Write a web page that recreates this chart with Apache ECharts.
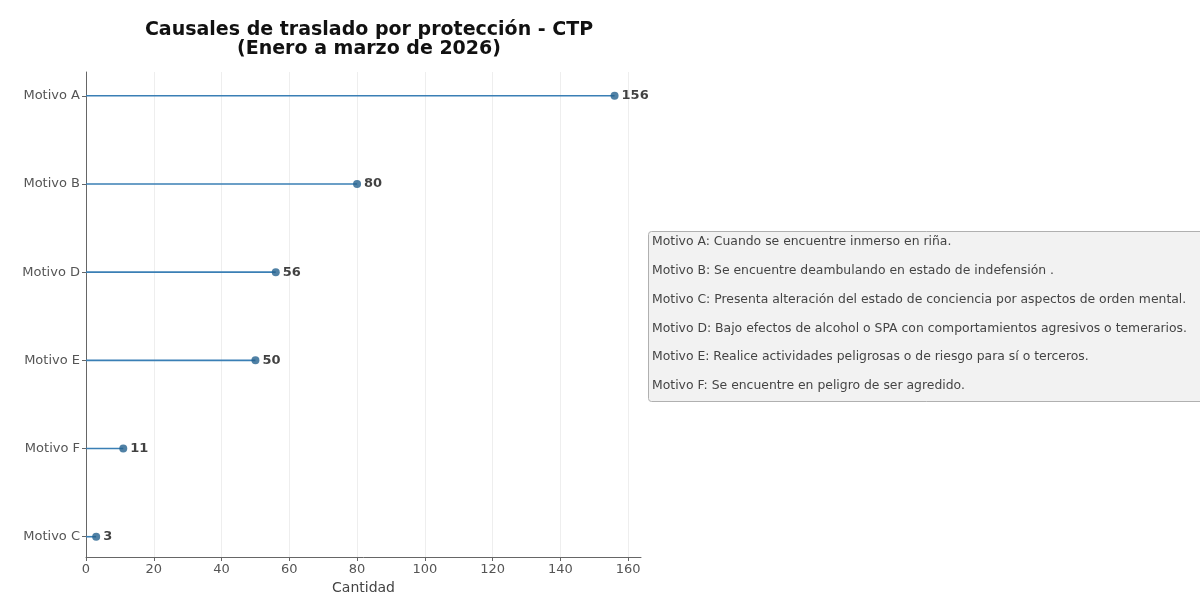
<!DOCTYPE html>
<html>
<head>
<meta charset="utf-8">
<script src="https://cdn.jsdelivr.net/npm/echarts@6/dist/echarts.min.js"></script>
<style>html,body{margin:0;padding:0;background:#fff}#c{width:1200px;height:601px}</style>
</head>
<body>
<div id="c"></div>
<script>
const categories = ['Motivo A', 'Motivo B', 'Motivo D', 'Motivo E', 'Motivo F', 'Motivo C'];
const values = [156, 80, 56, 50, 11, 3];
const xTicks = [0, 20, 40, 60, 80, 100, 120, 140, 160];
const legendLines = [
  'Motivo A: Cuando se encuentre inmerso en riña.',
  'Motivo B: Se encuentre deambulando en estado de indefensión .',
  'Motivo C: Presenta alteración del estado de conciencia por aspectos de orden mental.',
  'Motivo D: Bajo efectos de alcohol o SPA con comportamientos agresivos o temerarios.',
  'Motivo E: Realice actividades peligrosas o de riesgo para sí o terceros.',
  'Motivo F: Se encuentre en peligro de ser agredido.'
];

const chart = echarts.init(document.getElementById('c'), null, {renderer: 'canvas'});
const idx = categories.map((_, i) => i);
const pts = values.map((v, i) => [v, i]);

const legendGraphics = [{
  type: 'rect', left: 648, top: 231,
  shape: {width: 600, height: 170, r: 3},
  style: {fill: '#f2f2f2', stroke: '#b0b0b0', lineWidth: 1}
}];
legendLines.forEach((t, i) => {
  legendGraphics.push({
    type: 'text', left: 652, top: 236 + i * 28.8,
    style: {text: t, fill: '#444', font: '12.4px "DejaVu Sans"'}
  });
});

chart.setOption({
  animation: false,
  title: {
    text: 'Causales de traslado por protección - CTP\n(Enero a marzo de 2026)',
    left: 364, top: 16, textAlign: 'center',
    textStyle: {fontFamily: 'DejaVu Sans', fontWeight: 'bold', fontSize: 19, lineHeight: 19, color: '#111'}
  },
  grid: {left: 86, right: 559, top: 72, bottom: 44},
  xAxis: {
    type: 'value', min: 0, max: 163.8, interval: 20,
    name: 'Cantidad', nameLocation: 'middle', nameGap: 24,
    nameTextStyle: {fontFamily: 'DejaVu Sans', fontSize: 14, color: '#444'},
    axisLine: {show: true, onZero: false, lineStyle: {color: '#666', width: 1}},
    axisTick: {show: true, length: 4, lineStyle: {color: '#666'}, customValues: xTicks},
    axisLabel: {fontFamily: 'DejaVu Sans', fontSize: 13, color: '#555', margin: 6, customValues: xTicks},
    splitLine: {show: true, lineStyle: {color: '#eeeeee', width: 1}}
  },
  yAxis: {
    type: 'value', inverse: true, min: -0.27, max: 5.23,
    axisLine: {show: true, onZero: false, lineStyle: {color: '#666', width: 1}},
    axisTick: {show: true, length: 4, lineStyle: {color: '#666'}, customValues: idx},
    axisLabel: {fontFamily: 'DejaVu Sans', fontSize: 13, color: '#555', margin: 6, customValues: idx,
      formatter: v => categories[Math.round(v)] || ''},
    splitLine: {show: false}
  },
  graphic: legendGraphics,
  series: [
    {
      type: 'custom',
      data: pts,
      encode: {x: 0, y: 1},
      renderItem: function (params, api) {
        const p0 = api.coord([0, api.value(1)]);
        const p1 = api.coord([api.value(0), api.value(1)]);
        return {
          type: 'line',
          shape: {x1: p0[0], y1: p0[1], x2: p1[0], y2: p1[1]},
          style: {stroke: '#3a7fb5', lineWidth: 1.6}
        };
      },
      z: 2
    },
    {
      type: 'scatter',
      data: pts,
      symbolSize: 8,
      itemStyle: {color: '#24628f'},
      label: {
        show: true, position: 'right', distance: 3,
        formatter: p => String(p.value[0]),
        fontFamily: 'DejaVu Sans', fontWeight: 'bold', fontSize: 13, color: '#111'
      },
      z: 3
    }
  ]
});
</script>
</body>
</html>
